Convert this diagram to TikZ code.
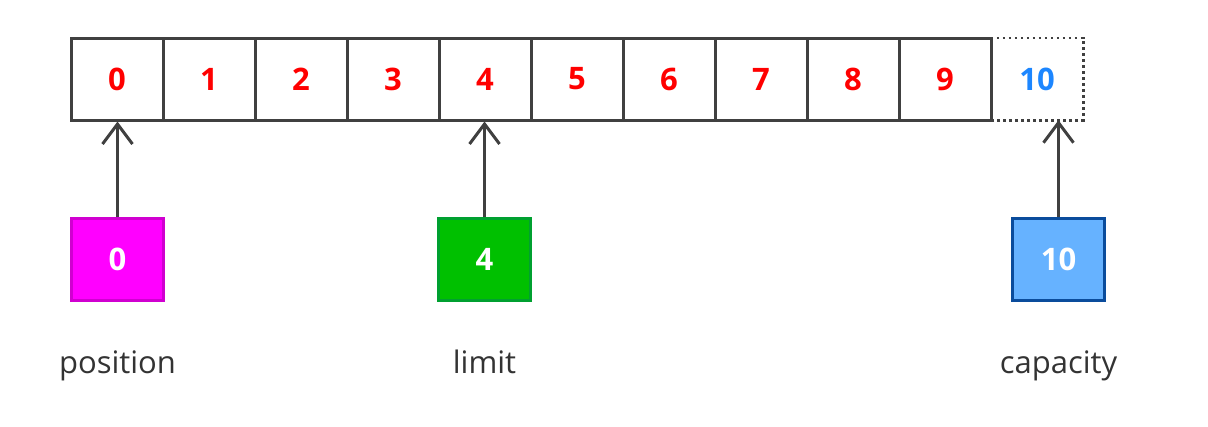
\documentclass[tikz,border=0pt]{standalone}
\usepackage{fontspec}
\setmainfont{Open Sans}
\usetikzlibrary{arrows.meta}
\definecolor{linegray}{HTML}{404040}
\definecolor{numred}{HTML}{FF0000}
\definecolor{numblue}{HTML}{1C86FF}
\definecolor{magfill}{HTML}{FF00FF}
\definecolor{magdraw}{HTML}{D000D0}
\definecolor{grnfill}{HTML}{00C000}
\definecolor{grndraw}{HTML}{00A030}
\definecolor{blufill}{HTML}{66B2FF}
\definecolor{bludraw}{HTML}{0A4C9C}
\definecolor{labgray}{HTML}{333333}
\tikzset{
  cellbox/.style={draw=linegray, line width=3pt, minimum width=92pt, minimum height=82pt,
    inner sep=0pt, text=numred, font=\fontsize{31}{34}\selectfont\bfseries},
  lastcell/.style={minimum width=92pt, minimum height=82pt, inner sep=0pt,
    text=numblue, font=\fontsize{31}{34}\selectfont\bfseries},
  ptrbox/.style={line width=2.2pt, minimum width=92pt, minimum height=82pt, inner sep=0pt,
    text=white, font=\fontsize{31}{34}\selectfont\bfseries},
  ptrarrow/.style={draw=linegray, line width=3pt, -{Straight Barb[length=20pt,width=30pt,line width=3pt]}},
  lab/.style={anchor=base, text=labgray, font=\fontsize{31}{34}\selectfont, inner sep=0pt}
}
\begin{document}
\begin{tikzpicture}[x=1pt,y=-1pt]
\useasboundingbox (0,0) rectangle (1208,426);
\foreach \i in {0,...,9}{
  \node[cellbox] (c\i) at ({71+92*\i+46},79) {\i};
}
\node[lastcell] (c10) at (1037,79) {10};
\draw[linegray, line width=2.6pt, dash pattern=on 2.6pt off 3.4pt] (c10.north west) -- (c10.north east) -- (c10.south east) -- (c10.south west);
\node[ptrbox, fill=magfill, draw=magdraw] (pos) at (117.5,259.5) {0};
\node[ptrbox, fill=grnfill, draw=grndraw] (lim) at (484.5,259.5) {4};
\node[ptrbox, fill=blufill, draw=bludraw] (cap) at (1058.5,259.5) {10};
\draw[ptrarrow] (pos.north) -- (pos.north |- c0.south);
\draw[ptrarrow] (lim.north) -- (lim.north |- c4.south);
\draw[ptrarrow] (cap.north) -- (cap.north |- c10.south);
\node[lab] (poslab) at (117.5,373) {position};
\node[lab] (limlab) at (484.5,373) {limit};
\node[lab] (caplab) at (1058.5,373) {capacity};
\end{tikzpicture}
\end{document}
